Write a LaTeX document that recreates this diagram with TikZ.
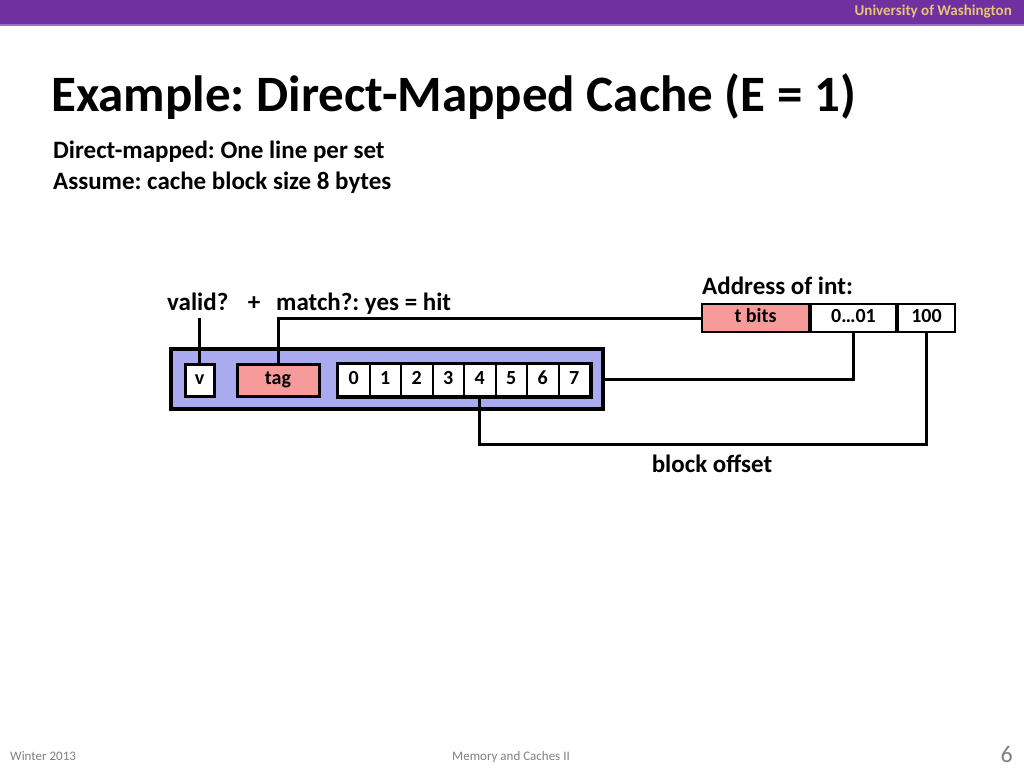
\documentclass[tikz,border=0pt]{standalone}
\usepackage{fontspec}
\setmainfont{Carlito}
\usetikzlibrary{positioning}
\definecolor{uwpurple}{HTML}{7030A0}
\definecolor{uwlight}{HTML}{9A6FD0}
\definecolor{uwgold}{HTML}{E6C47A}
\definecolor{lav}{HTML}{AAAAEE}
\definecolor{tagpink}{HTML}{F79A9A}
\definecolor{footgray}{HTML}{7F7F7F}
\newcommand{\fs}[1]{\fontsize{#1}{#1}\selectfont}
\frenchspacing

\begin{document}
\begin{tikzpicture}[x=1pt,y=-1pt,
    txt/.style={font=\fs{25}\bfseries, inner sep=0},
    cell/.style={draw, line width=2, fill=white, inner sep=0, text height=13, text depth=4, font=\fs{20}\bfseries},
    conn/.style={line width=3}]
    \useasboundingbox (0,0) rectangle (1024,768);
    \fill[uwpurple] (0,0) rectangle (1024,24);
    \fill[uwlight] (0,24) rectangle (1024,26);
    \node[anchor=base east, inner sep=0, text=uwgold, font=\fs{15}\bfseries] (uni) at (1012,16) {University of Washington};
    \node[anchor=base west, inner sep=0, font=\fs{51}\bfseries] (title) at (51,111) {Example: Direct-Mapped Cache (E = 1)};
    \node[txt, anchor=base west] (line1) at (53,158) {Direct-mapped: One line per set};
    \node[txt, anchor=base west] (line2) at (53,189) {Assume: cache block size 8 bytes};

    % address of the int
    \node[txt, anchor=base west] (addr) at (702,294) {Address of int:};
    \node[cell, fill=tagpink, minimum width=107, minimum height=28] (tbits) at (755.5,318) {t bits};
    \node[cell, minimum width=85, minimum height=28, right=0pt of tbits] (setidx) {0\ldots01};
    \node[cell, minimum width=57, minimum height=28, right=0pt of setidx] (offs) {100};

    % cache line
    \node[draw, line width=4, fill=lav, minimum width=432, minimum height=60] (cline) at (387,379) {};
    \node[cell, line width=3, minimum width=29, minimum height=32] (vbox) at (199.5,380) {v};
    \node[cell, line width=3, fill=tagpink, minimum width=82, minimum height=32] (tagbox) at (278,380) {tag};
    \foreach \i in {0,...,7}
        \node[cell, minimum width=31.5, minimum height=32] (b\i) at (353.75+31.5*\i,380) {\i};
    \draw[line width=3] (b0.north west) rectangle (b7.south east);

    \node[txt, anchor=base west] (valid) at (167,310) {valid?};
    \node[txt, anchor=base] (plus) at (254,310) {+};
    \node[txt, anchor=base west] (match) at (276,310) {match?: yes = hit};
    \node[txt, anchor=base] (boff) at (712,472) {block offset};

    \coordinate (vtop) at (199.5,318);
    \draw[conn] (vbox.north) -- (vtop);
    \draw[conn] (tagbox.north) |- (tbits.west);
    \draw[conn] (cline.east) -| (setidx.south);
    \draw[conn] (b4.south) -- ++(0,47) -| (offs.south);

    % footer
    \node[anchor=base west, inner sep=0, text=footgray, font=\fs{13}] (winter) at (10,760) {Winter 2013};
    \node[anchor=base, inner sep=0, text=footgray, font=\fs{13}] (topic) at (511,760) {Memory and Caches II};
    \node[anchor=base east, inner sep=0, text=footgray, font=\fs{24}] (page) at (1013,762) {6};
\end{tikzpicture}
\end{document}
